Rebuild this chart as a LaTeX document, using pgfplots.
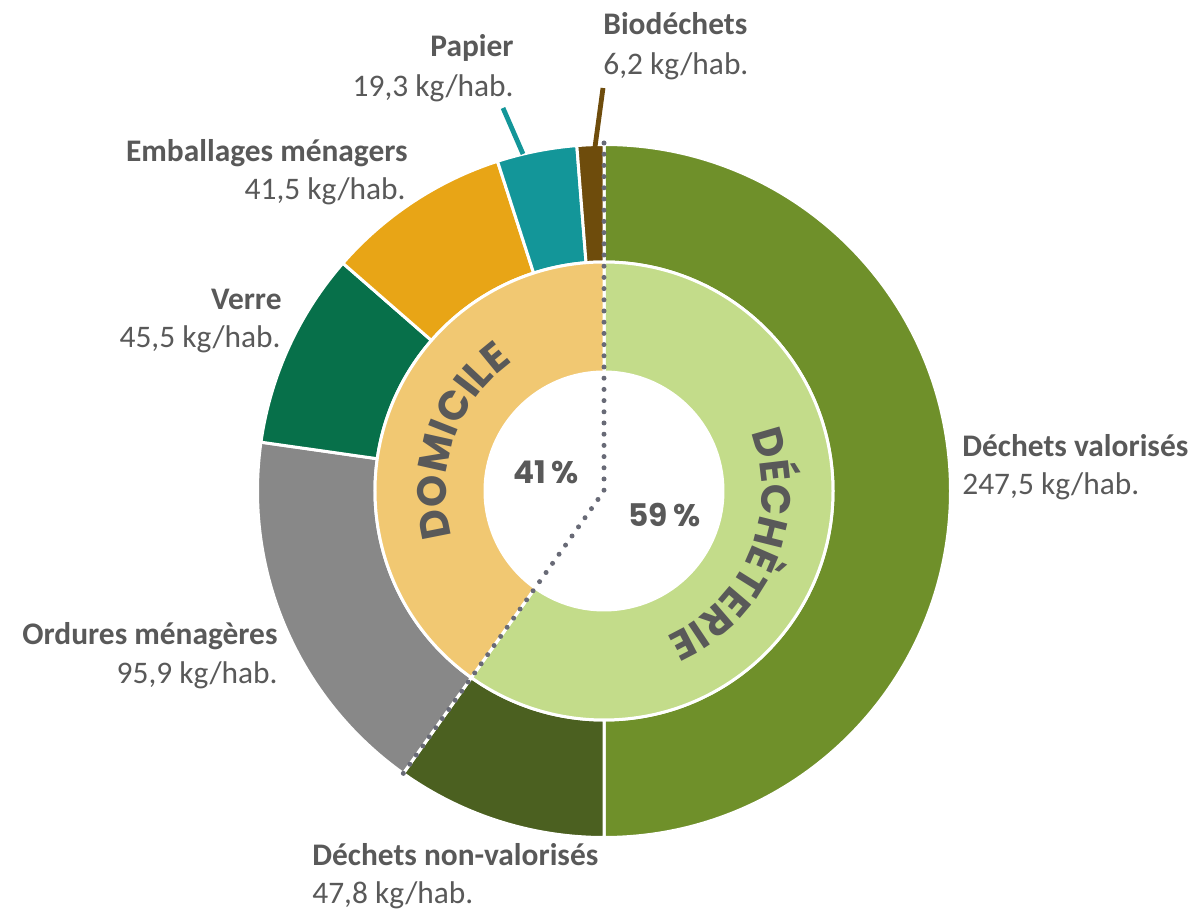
\documentclass[border=0pt]{standalone}
\usepackage{pgfplots}
\pgfplotsset{compat=1.18}
\usepackage{fontspec}
\setmainfont{Carlito}
\newfontfamily\gothic{Poppins}
\usetikzlibrary{calc,decorations.text}
\definecolor{cVal}{HTML}{6F902A}
\definecolor{cNon}{HTML}{4B6020}
\definecolor{cDech}{HTML}{C3DC8A}
\definecolor{cDom}{HTML}{F1C872}
\definecolor{cOrd}{HTML}{888888}
\definecolor{cVer}{HTML}{07704A}
\definecolor{cEmb}{HTML}{E8A516}
\definecolor{cPap}{HTML}{139699}
\definecolor{cBio}{HTML}{6E4C0C}
\definecolor{cDot}{HTML}{686A76}
\definecolor{txt}{HTML}{595959}
\begin{document}
\begin{tikzpicture}
\begin{axis}[scale only axis, width=597.5pt, height=456.5pt,
  xmin=0, xmax=1195, ymin=0, ymax=913, y dir=reverse, hide axis, clip=false]
\pgfplotsextra{
  \def\Ro{173.25pt}
  \def\Rm{114.5pt}
  \def\Ri{59.5pt}
  \coordinate (C) at (axis cs:604,491);
  % outer ring: angular sweep (degrees) of each segment as drawn in the picture
  % valorises 247,5 ; non-valorises 47,8 ; ordures 95,9 ; verre 45,5 ; emballages 41,5 ; papier 19,3 ; biodechets 6,2 (kg/hab.)
  \gdef\acur{90}
  \foreach \v/\c in {180/cVal, 35.4/cNon, 62.7/cOrd, 33.0/cVer, 31.0/cEmb, 13.4/cPap, 4.5/cBio}{
    \pgfmathsetmacro\anew{\acur-\v}
    \fill[\c, draw=white, line width=1.5pt] ($(C)+(\acur:\Ro)$) arc[start angle=\acur, end angle=\anew, radius=\Ro]
      -- ($(C)+(\anew:\Rm)$) arc[start angle=\anew, end angle=\acur, radius=\Rm] -- cycle;
    \global\let\acur\anew
  }
  % inner ring: decheterie 59 %, domicile 41 %
  \gdef\acur{90}
  \foreach \v/\c in {215.4/cDech, 144.6/cDom}{
    \pgfmathsetmacro\anew{\acur-\v}
    \fill[\c, draw=white, line width=1.5pt] ($(C)+(\acur:\Rm)$) arc[start angle=\acur, end angle=\anew, radius=\Rm]
      -- ($(C)+(\anew:\Ri)$) arc[start angle=\anew, end angle=\acur, radius=\Ri] -- cycle;
    \global\let\acur\anew
  }
  \pgfmathsetmacro\asplit{90-215.4}
  \draw[cDot, line width=2.5pt, line cap=round, dash pattern=on 0pt off 5.6pt]
    ($(C)+(90:174pt)$) -- (C) -- ($(C)+(\asplit:174pt)$);
  % leader lines
  \draw[cPap, line width=2.4pt] (axis cs:523,154) -- (axis cs:503,108);
  \draw[cBio, line width=2.4pt] (axis cs:595,147) -- (axis cs:603,88);
  % ring titles
  \path[decorate, decoration={text along path, text align=center, text color=txt,
     text={|\gothic\bfseries\fontsize{20.5}{20}\selectfont|DOMICILE}}]
     ($(C)+(221:79pt)$) arc[start angle=221, end angle=101, radius=79pt];
  \path[decorate, decoration={text along path, text align=center, text color=txt,
     text={|\gothic\bfseries\fontsize{20.5}{20}\selectfont|DÉCHÈTERIE}}]
     ($(C)+(42:79pt)$) arc[start angle=42, end angle=-87, radius=79pt];
  % percentages
  \node[anchor=base west, inner sep=0pt, text=txt, font=\gothic\bfseries\fontsize{15.6}{16}\selectfont] at (axis cs:513,484) {41\,\%};
  \node[anchor=base west, inner sep=0pt, text=txt, font=\gothic\bfseries\fontsize{15.6}{16}\selectfont] at (axis cs:628,527) {59\,\%};
  % labels
  \tikzset{lb/.style={inner sep=0pt, text=txt, font=\bfseries\fontsize{15.7}{18}\selectfont},
           lv/.style={inner sep=0pt, text=txt, font=\fontsize{15.7}{18}\selectfont}}
  \node[lb, anchor=base east] at (axis cs:514,57) {Papier};
  \node[lv, anchor=base east] at (axis cs:514,97) {19,3 kg/hab.};
  \node[lb, anchor=base west] at (axis cs:603,35) {Biodéchets};
  \node[lv, anchor=base west] at (axis cs:603,75) {6,2 kg/hab.};
  \node[lb, anchor=base east] at (axis cs:408,162) {Emballages ménagers};
  \node[lv, anchor=base east] at (axis cs:406,200) {41,5 kg/hab.};
  \node[lb, anchor=base east] at (axis cs:282,310) {Verre};
  \node[lv, anchor=base east] at (axis cs:281,348) {45,5 kg/hab.};
  \node[lb, anchor=base west] at (axis cs:962,457) {Déchets valorisés};
  \node[lv, anchor=base west] at (axis cs:962,495) {247,5 kg/hab.};
  \node[lb, anchor=base east] at (axis cs:278,645) {Ordures ménagères};
  \node[lv, anchor=base east] at (axis cs:278,684) {95,9 kg/hab.};
  \node[lb, anchor=base west] at (axis cs:312,866) {Déchets non-valorisés};
  \node[lv, anchor=base west] at (axis cs:312,904) {47,8 kg/hab.};
}
\end{axis}
\pgfresetboundingbox
\path (current axis.south west) rectangle (current axis.north east);
\end{tikzpicture}
\end{document}
